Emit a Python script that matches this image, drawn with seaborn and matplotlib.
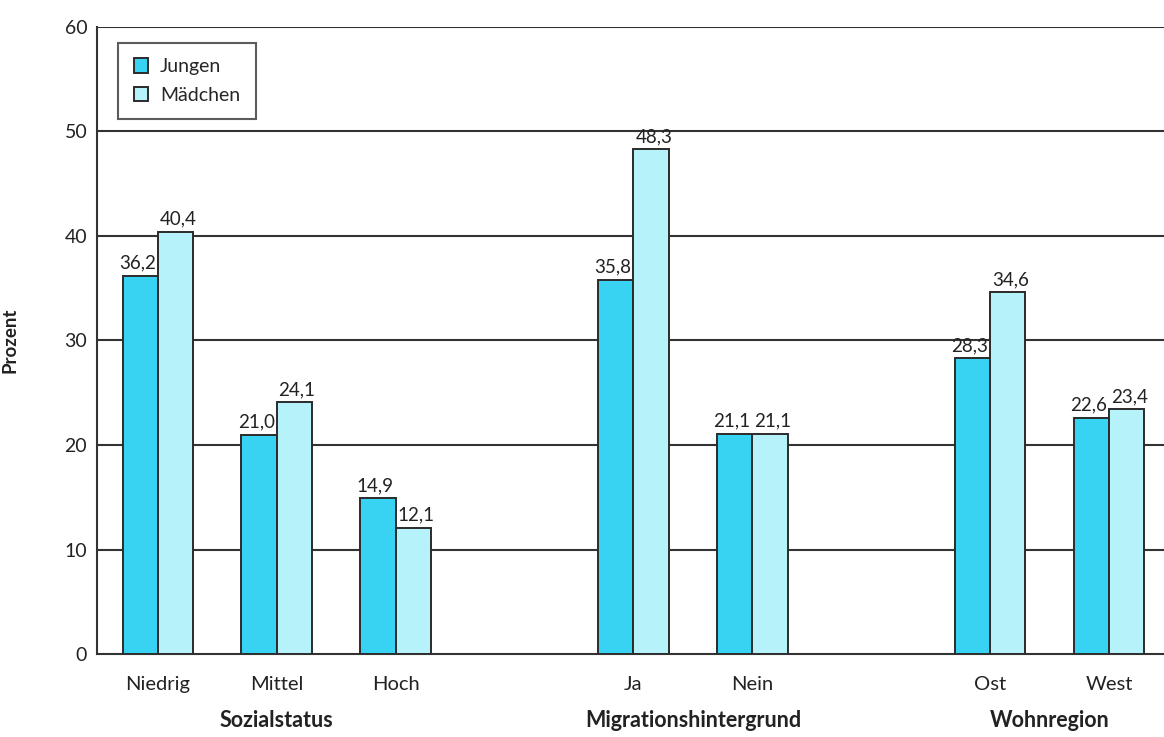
import matplotlib
matplotlib.use("Agg")
import matplotlib.pyplot as plt
import seaborn as sns
import pandas as pd

# Categories, with blank placeholders separating the three groups
categories = ["Niedrig", "Mittel", "Hoch", "", "Ja", "Nein", " ", "Ost", "West"]
shown = ["Niedrig", "Mittel", "Hoch", "Ja", "Nein", "Ost", "West"]
jungen = [36.2, 21.0, 14.9, 35.8, 21.1, 28.3, 22.6]
maedchen = [40.4, 24.1, 12.1, 48.3, 21.1, 34.6, 23.4]
groups = ["Sozialstatus", "Migrationshintergrund", "Wohnregion"]
group_pos = [1, 4.5, 7.5]
y_ticks = [0, 10, 20, 30, 40, 50, 60]

df = pd.DataFrame({
    "Kategorie": shown * 2,
    "Prozent": jungen + maedchen,
    "Geschlecht": ["Jungen"] * len(shown) + ["Mädchen"] * len(shown),
})

sns.set_style("white")
plt.rcParams["font.family"] = ["Lato", "DejaVu Sans"]

fig = plt.figure(figsize=(11.64, 7.37), dpi=100)
ax = fig.add_axes([0.0833, 0.1126, 0.9167, 0.8508])

palette = {"Jungen": "#38d3f2", "Mädchen": "#b6f2f9"}
sns.barplot(data=df, x="Kategorie", y="Prozent", hue="Geschlecht",
            order=categories, hue_order=["Jungen", "Mädchen"],
            palette=palette, width=0.59, gap=0, edgecolor="#2b2b2b",
            linewidth=1.4, saturation=1, ax=ax, zorder=3)

# Value labels above each bar; the pair is nudged apart slightly
for cont, dx in zip(ax.containers, [-2, 2]):
    labels = [f"{v:.1f}".replace(".", ",") for v in cont.datavalues]
    anns = ax.bar_label(cont, labels=labels, padding=3, fontsize=13.5,
                        color="#222222")
    for a in anns:
        a.xyann = (dx, 3)

ax.set_ylim(0, 60)
ax.set_xlim(-0.51, 8.46)
ax.set_yticks(y_ticks)
ax.set_yticklabels([str(t) for t in y_ticks], fontsize=14, color="#222222")
ax.tick_params(axis="y", length=0, pad=7)
ax.tick_params(axis="x", length=0, pad=16)
ax.set_xticks(range(len(categories)))
ax.set_xticklabels(categories, fontsize=14.5, color="#222222")
ax.set_xlabel("")
ax.set_ylabel("Prozent", fontsize=13.5, fontweight="bold", color="#222222")
ax.yaxis.set_label_coords(-0.074, 0.5)

# Horizontal gridlines behind the bars
for t in y_ticks[1:]:
    ax.axhline(t, color="#333333", linewidth=1.5, zorder=1)

for side in ["top", "right"]:
    ax.spines[side].set_visible(False)
ax.spines["left"].set_color("#333333")
ax.spines["bottom"].set_color("#333333")
ax.spines["left"].set_linewidth(1.5)
ax.spines["bottom"].set_linewidth(1.5)

# Group captions under the category labels
for name, pos in zip(groups, group_pos):
    ax.text(pos, -6.35, name, ha="center", va="center", fontsize=15.5,
            fontweight="bold", color="#222222")

leg = ax.legend(loc="upper left", bbox_to_anchor=(0.02, 0.975), fontsize=14,
                frameon=True, fancybox=False, edgecolor="#333333",
                handlelength=0.75, handleheight=0.75, borderpad=0.8,
                labelspacing=0.6, handletextpad=0.6, borderaxespad=0)
leg.get_frame().set_linewidth(1.5)
leg.set_zorder(5)

fig.savefig("out.png", dpi=100, facecolor="white")
